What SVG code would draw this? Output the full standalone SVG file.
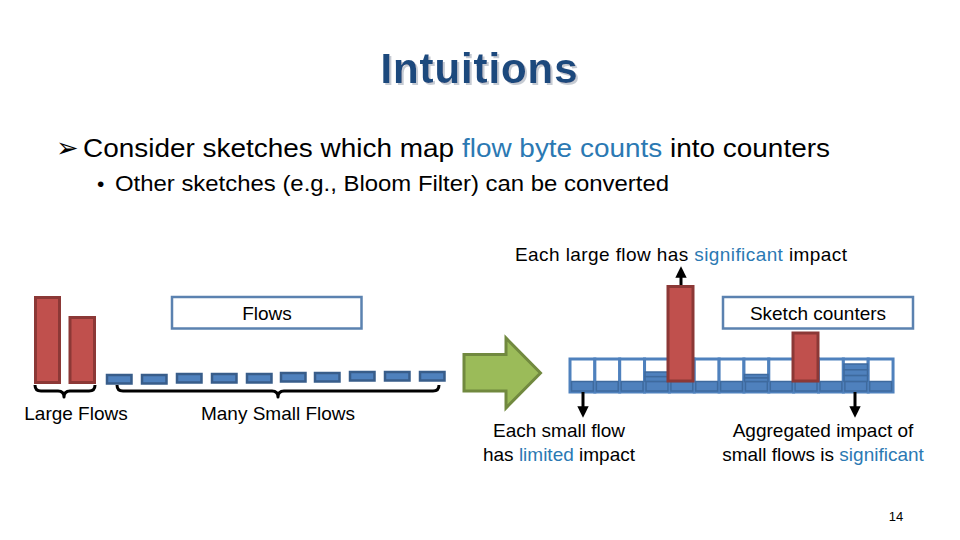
<svg xmlns="http://www.w3.org/2000/svg" width="960" height="540" viewBox="0 0 960 540">
<defs>
<style>
text{font-family:"Liberation Sans",Arial,sans-serif;fill:#000}
.t{font-size:19px}
.hl{fill:#2B79B3}
.red{fill:#C0504D;stroke:#8C3836;stroke-width:3}
.sm{fill:#4F81BD;stroke:#385D8A;stroke-width:2.5}
.box{fill:#fff;stroke:#5B82B0;stroke-width:2.5}
.cell{fill:#fff;stroke:#4F81BD;stroke-width:3}
.band{fill:#4F81BD;stroke:#3E6A9E;stroke-width:1.5}
.conn{fill:none;stroke:#000;stroke-width:3}
.brace{fill:none;stroke:#000;stroke-width:3;stroke-linejoin:round}
</style>
<filter id="shadow" x="-5%" y="-20%" width="110%" height="140%">
<feDropShadow dx="2" dy="2" stdDeviation="0.6" flood-color="#B8BEC8" flood-opacity="0.8"/>
</filter>
<marker id="ah" viewBox="0 0 10 10" refX="5" refY="5" markerWidth="3.8" markerHeight="3.8" orient="auto" markerUnits="strokeWidth">
<path d="M0,0 L10,5 L0,10 Z" fill="#000"/>
</marker>
</defs>
<rect width="960" height="540" fill="#fff"/>

<g id="title">
<text x="479" y="83" text-anchor="middle" font-size="42" font-weight="bold" style="fill:#1F497D" textLength="197" filter="url(#shadow)">Intuitions</text>
</g>

<g id="bullets">
<text x="56" y="157" font-size="27" font-family="'DejaVu Sans',sans-serif">➢</text>
<text x="83" y="157" font-size="26" textLength="747" lengthAdjust="spacingAndGlyphs">Consider sketches which map <tspan class="hl">flow byte counts</tspan> into counters</text>
<text x="97" y="191" font-size="21">•</text>
<text x="115" y="191" font-size="22" textLength="554" lengthAdjust="spacingAndGlyphs">Other sketches (e.g., Bloom Filter) can be converted</text>
</g>

<g id="large-flows">
<rect class="red" x="35.5" y="297.5" width="24" height="85"/>
<rect class="red" x="70" y="317.5" width="24.5" height="65"/>
<text class="t" x="76" y="420" text-anchor="middle">Large Flows</text>
</g>

<g id="small-flows">
<rect class="sm" x="107" y="375" width="24.5" height="8.5"/>
<rect class="sm" x="142" y="375" width="24.5" height="8.5"/>
<rect class="sm" x="177" y="374" width="24.5" height="8.5"/>
<rect class="sm" x="212" y="374" width="24.5" height="8.5"/>
<rect class="sm" x="247" y="374" width="24.5" height="8.5"/>
<rect class="sm" x="281" y="373" width="24.5" height="8.5"/>
<rect class="sm" x="315" y="373" width="24.5" height="8.5"/>
<rect class="sm" x="350" y="372" width="24.5" height="8.5"/>
<rect class="sm" x="385" y="372" width="24.5" height="8.5"/>
<rect class="sm" x="420" y="372" width="24.5" height="8.5"/>
<text class="t" x="278" y="420" text-anchor="middle">Many Small Flows</text>
</g>

<g id="flows-box">
<rect class="box" x="172" y="297" width="189.5" height="31.5"/>
<text class="t" x="267" y="320" text-anchor="middle">Flows</text>
</g>

<g id="transform-arrow">
<polygon points="464,354.5 506,354.5 506,338 540.5,373 506,408 506,391 464,391" fill="#9BBB59" stroke="#71893F" stroke-width="3" stroke-linejoin="miter"/>
</g>

<g id="sketch-counters">
<rect class="cell" x="570" y="359" width="24.85" height="33"/>
<rect class="cell" x="594.85" y="359" width="24.85" height="33"/>
<rect class="cell" x="619.7" y="359" width="24.85" height="33"/>
<rect class="cell" x="644.55" y="359" width="24.85" height="33"/>
<rect class="cell" x="669.4" y="359" width="24.85" height="33"/>
<rect class="cell" x="694.25" y="359" width="24.85" height="33"/>
<rect class="cell" x="719.1" y="359" width="24.85" height="33"/>
<rect class="cell" x="743.95" y="359" width="24.85" height="33"/>
<rect class="cell" x="768.8" y="359" width="24.85" height="33"/>
<rect class="cell" x="793.65" y="359" width="24.85" height="33"/>
<rect class="cell" x="818.5" y="359" width="24.85" height="33"/>
<rect class="cell" x="843.35" y="359" width="24.85" height="33"/>
<rect class="cell" x="868.2" y="359" width="24.85" height="33"/>
<rect class="band" x="571.5" y="381.5" width="21.85" height="9.5"/>
<rect class="band" x="596.35" y="381.5" width="21.85" height="9.5"/>
<rect class="band" x="621.2" y="381.5" width="21.85" height="9.5"/>
<rect class="band" x="646.05" y="381.5" width="21.85" height="9.5"/>
<rect class="band" x="670.9" y="381.5" width="21.85" height="9.5"/>
<rect class="band" x="695.75" y="381.5" width="21.85" height="9.5"/>
<rect class="band" x="720.6" y="381.5" width="21.85" height="9.5"/>
<rect class="band" x="745.45" y="381.5" width="21.85" height="9.5"/>
<rect class="band" x="770.3" y="381.5" width="21.85" height="9.5"/>
<rect class="band" x="795.15" y="381.5" width="21.85" height="9.5"/>
<rect class="band" x="820" y="381.5" width="21.85" height="9.5"/>
<rect class="band" x="844.85" y="381.5" width="21.85" height="9.5"/>
<rect class="band" x="869.7" y="381.5" width="21.85" height="9.5"/>
<rect class="band" x="645" y="372" width="23.5" height="4.7"/>
<rect class="band" x="645" y="376.7" width="23.5" height="4.7"/>
<rect class="band" x="744.5" y="374.5" width="23.5" height="3.5"/>
<rect class="band" x="744.5" y="378" width="23.5" height="3.5"/>
<rect class="band" x="844" y="364" width="23.5" height="5.8"/>
<rect class="band" x="844" y="369.8" width="23.5" height="5.8"/>
<rect class="band" x="844" y="375.6" width="23.5" height="5.8"/>
<rect class="red" x="668" y="286.5" width="25" height="94.5"/>
<rect class="red" x="793" y="333" width="25" height="48"/>
</g>

<g id="sketch-label">
<rect class="box" x="723" y="297" width="190" height="31.5"/>
<text class="t" x="818" y="320" text-anchor="middle">Sketch counters</text>
</g>

<g id="label-large">
<text class="t" x="681" y="261" text-anchor="middle" textLength="332">Each large flow has <tspan class="hl">significant</tspan> impact</text>
</g>

<g id="label-small">
<text class="t" x="559" y="437" text-anchor="middle">Each small flow</text>
<text class="t" x="559" y="461" text-anchor="middle">has <tspan class="hl">limited</tspan> impact</text>
</g>

<g id="label-aggregate">
<text class="t" x="823" y="437" text-anchor="middle">Aggregated impact of</text>
<text class="t" x="823" y="461" text-anchor="middle">small flows is <tspan class="hl">significant</tspan></text>
</g>

<g id="connectors">
<path class="brace" d="M35,385 Q35,391 41,391 L58,391 Q64,391 64,397 Q64,391 70,391 L89,391 Q95,391 95,385"/>
<path class="brace" d="M117,385 Q117,391 123,391 L272,391 Q278,391 278,397 Q278,391 284,391 L433,391 Q439,391 439,385"/>
<line class="conn" x1="681" y1="285" x2="681" y2="272" marker-end="url(#ah)"/>
<line class="conn" x1="583" y1="392" x2="583" y2="412" marker-end="url(#ah)"/>
<line class="conn" x1="855" y1="392" x2="855" y2="412" marker-end="url(#ah)"/>
</g>

<g id="page-number">
<text x="896" y="521" text-anchor="middle" font-size="13">14</text>
</g>
</svg>
